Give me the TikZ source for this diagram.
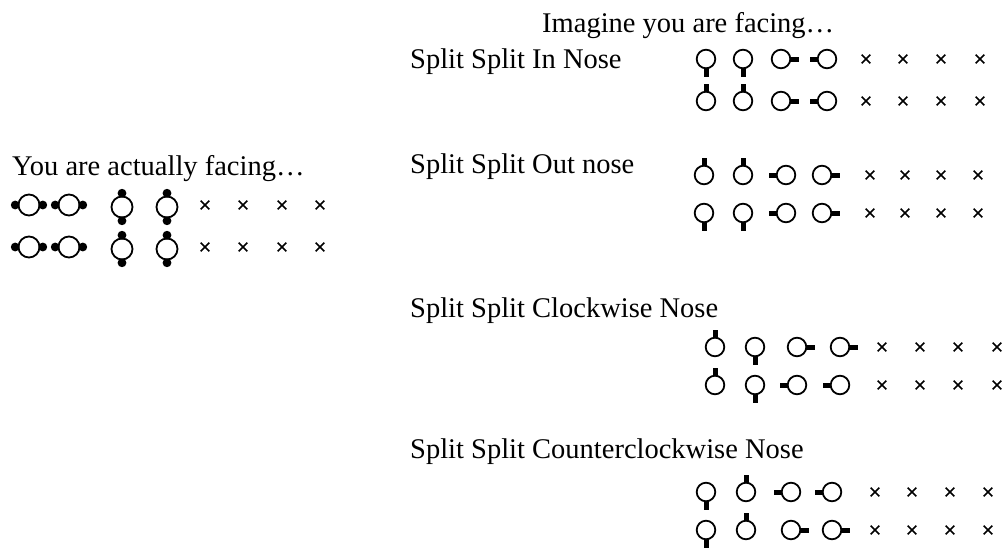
\documentclass[tikz,border=0pt]{standalone}
\usepackage{fontspec}
\setmainfont{Liberation Serif}
\usepackage{tikz}
\usetikzlibrary{positioning}

\begin{document}
\begin{tikzpicture}[
  x=1pt, y=1pt,
  lbl/.style={
    anchor=base west, inner sep=0pt,
    font=\fontsize{28.5}{34}\selectfont
  },
  ring/.style={draw=black, line width=1.8pt},
  stub/.style={line width=5pt, line cap=butt},
  xline/.style={line width=1.5pt},
  nose/.pic={
    \draw[ring] (0,0) circle[radius=9.3];
    \draw[stub] (#1:9.3) -- (#1:17.5);
  },
  twodots/.pic={
    \draw[ring] (0,0) circle[radius=10.5];
    \fill (#1:13.8) circle[radius=4.4];
    \fill (#1+180:13.8) circle[radius=4.4];
  },
  cross/.pic={
    \draw[xline] (-4.3,-4.3) -- (4.3,4.3) (-4.3,4.3) -- (4.3,-4.3);
  },
]
\useasboundingbox (0,0) rectangle (1008,-549);

%% ── Headings ─────────────────────────────────────────────────────
\node[lbl] (imagine) at (542,-32)  {Imagine you are facing…};
\node[lbl] (actual)  at (12,-175)  {You are actually facing…};
\node[lbl] (innose)  at (410,-68)  {Split Split In Nose};
\node[lbl] (outnose) at (410,-173) {Split Split Out nose};
\node[lbl] (cwnose)  at (410,-317) {Split Split Clockwise Nose};
\node[lbl] (ccwnose) at (410,-458) {Split Split Counterclockwise Nose};

%% ── Actually facing (left) ───────────────────────────────────────
\foreach \y in {-205,-247} {
  \pic at (29,\y)  {twodots=0};
  \pic at (69,\y)  {twodots=0};
  \pic at (122,\y-2) {twodots=90};
  \pic at (167,\y-2) {twodots=90};
  \foreach \x in {205,243,282,320} \pic at (\x,\y) {cross};
}

%% ── In nose ──────────────────────────────────────────────────────
\foreach \x/\a in {706/-90,743/-90,781/0,827/180} \pic at (\x,-59) {nose=\a};
\foreach \x/\a in {706/90,743/90,781/0,827/180}   \pic at (\x,-101) {nose=\a};
\foreach \y in {-59,-101}
  \foreach \x in {866,903,941,980} \pic at (\x,\y) {cross};

%% ── Out nose ─────────────────────────────────────────────────────
\foreach \x/\a in {704/90,743/90,786/180,822/0}   \pic at (\x,-175) {nose=\a};
\foreach \x/\a in {704/-90,743/-90,786/180,822/0} \pic at (\x,-213) {nose=\a};
\foreach \y in {-175,-213}
  \foreach \x in {870,905,941,978} \pic at (\x,\y) {cross};

%% ── Clockwise nose ───────────────────────────────────────────────
\foreach \x/\a in {715/90,755/-90,797/0,840/0}     \pic at (\x,-347) {nose=\a};
\foreach \x/\a in {715/90,755/-90,797/180,840/180} \pic at (\x,-385) {nose=\a};
\foreach \y in {-347,-385}
  \foreach \x in {882,920,958,997} \pic at (\x,\y) {cross};

%% ── Counterclockwise nose ────────────────────────────────────────
\foreach \x/\a in {706/-90,746/90,791/180,832/180} \pic at (\x,-492) {nose=\a};
\foreach \x/\a in {706/-90,746/90,791/0,832/0}     \pic at (\x,-530) {nose=\a};
\foreach \y in {-492,-530}
  \foreach \x in {875,912,950,988} \pic at (\x,\y) {cross};

\end{tikzpicture}
\end{document}
